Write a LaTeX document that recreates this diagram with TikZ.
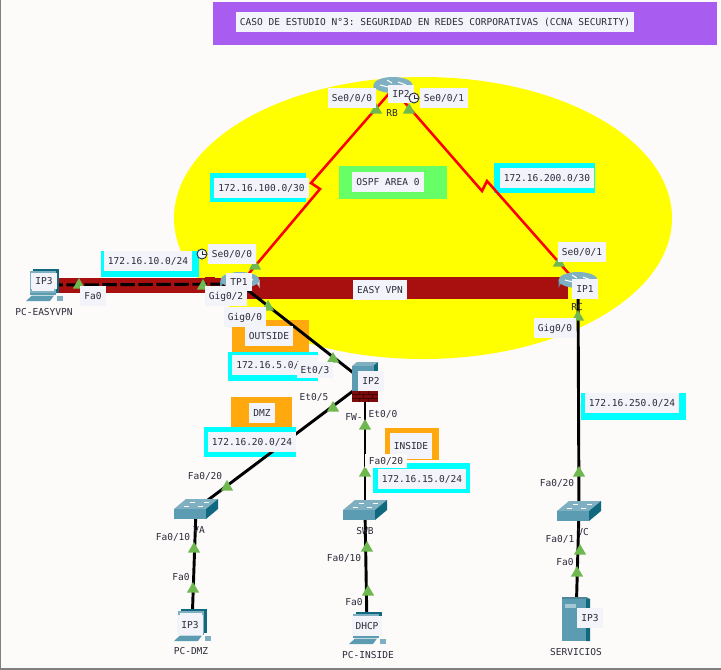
\documentclass[tikz,border=0pt]{standalone}
\usepackage{fontspec}
\setmonofont{DejaVu Sans Mono}
\usetikzlibrary{shapes.geometric}
\definecolor{fondo}{HTML}{FDFBF9}
\definecolor{morado}{HTML}{A95CF0}
\definecolor{amarillo}{HTML}{FFFF00}
\definecolor{verdearea}{HTML}{66FF66}
\definecolor{naranja}{HTML}{FFA90F}
\definecolor{cian}{HTML}{00FFFF}
\definecolor{vino}{HTML}{A80F0F}
\definecolor{etiqueta}{HTML}{F3F3FA}
\definecolor{tinta}{HTML}{2B2B3B}
\definecolor{puertoverde}{HTML}{6FB84F}
\definecolor{tealclaro}{HTML}{7FB0C1}
\definecolor{tealmedio}{HTML}{5C9CB2}
\definecolor{tealoscuro}{HTML}{10697F}
\tikzset{
  lbl/.style={font=\ttfamily\fontsize{7.15}{9}\selectfont, text=tinta, fill=etiqueta, inner xsep=3pt, inner ysep=4.5pt, text height=5.5pt, text depth=0.5pt},
  txt/.style={font=\ttfamily\fontsize{7.15}{9}\selectfont, text=tinta, inner sep=1pt},
  puerto/.style={regular polygon, regular polygon sides=3, fill=puertoverde, minimum size=10.5pt, inner sep=0pt},
  equipo/.style={inner sep=0pt, minimum size=6pt},
  enlace/.style={black, line width=2.2pt},
  serial/.style={red, line width=1.9pt},
  router/.pic={
    \path[left color=tealmedio, right color=tealclaro!40!white] (-19.5,-4) -- (-19.5,4) arc[x radius=19.5, y radius=8, start angle=180, end angle=360] -- (19.5,-4) -- cycle;
    \fill[tealclaro] (0,-4) ellipse[x radius=19.5, y radius=8];
    \draw[white, line width=0.8pt] (-13,-4) -- (-5,-2) (13,-4) -- (5,-7) (-6,-9) -- (-1,-6) (6,0) -- (1,-3);
  },
  switchred/.pic={
    \fill[tealclaro] (-22,0) -- (-10,-10) -- (22,-10) -- (10,0) -- cycle;
    \fill[tealmedio] (-22,0) rectangle (10,10);
    \fill[tealoscuro] (10,0) -- (22,-10) -- (22,0) -- (10,10) -- cycle;
    \draw[white, line width=0.7pt] (-12,-2.5) -- (-7,-2.5) (2,-2.5) -- (7,-2.5) (-6,-7) -- (-1,-7) (8,-7) -- (13,-7);
  },
  compu/.pic={
    \fill[tealoscuro] (-11,-16) -- (15,-16) -- (15,8) -- (-11,8) -- cycle;
    \fill[tealclaro] (-14,-14) rectangle (12,8);
    \fill[etiqueta] (-12,-12) rectangle (10,6);
    \fill[tealmedio] (-14,8) rectangle (12,10);
    \fill[tealmedio] (-12,10.5) -- (10,10.5) -- (6,16) -- (-18,16) -- cycle;
    \fill[tealclaro] (13,11) rectangle (19,16);
  },
  servidor/.pic={
    \fill[tealoscuro] (10,-22) -- (14,-20) -- (14,22) -- (10,22) -- cycle;
    \fill[tealmedio!85!black] (-14,-22) -- (10,-22) -- (14,-20) -- (-14,-20) -- cycle;
    \fill[tealmedio] (-14,-20) rectangle (10,22);
    \fill[tealclaro!70!white] (-11,-15) rectangle (0,-11);
  },
  muro/.pic={
    \fill[tealoscuro] (8,-20) -- (13,-20) -- (13,20) -- (8,20) -- cycle;
    \fill[tealclaro] (-13,-16) -- (-8,-20) -- (13,-20) -- (8,-16) -- cycle;
    \fill[tealmedio] (-13,-16) rectangle (9,10);
    \fill[vino!75!black] (-13,9) rectangle (13,20);
    \draw[black!60!vino, line width=0.5pt] (-13,12.5) -- (13,12.5) (-13,16) -- (13,16)
      (-6,9) -- (-6,12.5) (3,9) -- (3,12.5) (-2,12.5) -- (-2,16) (7,12.5) -- (7,16) (-6,16) -- (-6,20) (3,16) -- (3,20);
  },
  reloj/.pic={
    \draw[tinta, fill=etiqueta, line width=0.7pt] (0,0) circle (5);
    \draw[tinta, line width=0.7pt] (0,-3.5) -- (0,0) -- (3.5,0);
  }
}
\begin{document}
\begin{tikzpicture}[x=0.75pt,y=-0.75pt]
  \useasboundingbox (0,0) rectangle (721,669);
  % Fondo claro con borde gris
  \fill[fondo] (0,0) rectangle (721,669);
  \draw[gray, line width=1pt] (0,0) -- (0,669) -- (721,669);
  % Titulo
  \fill[morado] (213,2) rectangle (717,45);
  \node[lbl, minimum width=299pt] (titulo) at (435,22) {CASO DE ESTUDIO N°3: SEGURIDAD EN REDES CORPORATIVAS (CCNA SECURITY)};
  % Zona OSPF y bloques de color
  \fill[amarillo] (423,218) ellipse[x radius=249, y radius=141];
  \fill[verdearea] (339,166) rectangle (447,199);
  \fill[naranja] (232,320) rectangle (309,353);
  \fill[naranja] (231,397) rectangle (292,430);
  \fill[naranja] (385,428) rectangle (439,460);
  \fill[cian] (210,173) rectangle (306,202);
  \fill[cian] (494,163) rectangle (595,193);
  \fill[cian] (101,251) rectangle (199,277);
  \fill[cian] (228,352) rectangle (318,381);
  \fill[cian] (204,427) rectangle (296,457);
  \fill[cian] (373,463) rectangle (470,493);
  \fill[cian] (581,393) rectangle (686,420);
  % Tunel EASY VPN
  \fill[vino] (58,278) rectangle (245,293);
  \fill[vino] (205,277) rectangle (215,280);
  \fill[vino] (245,277) rectangle (568,299);
  % Equipos
  \node[equipo] (RB) at (393,89) {};
  \node[equipo] (TP1) at (240,284) {};
  \node[equipo] (RC) at (578,284) {};
  \node[equipo] (FW) at (365,382) {};
  \node[equipo] (SWA) at (196,509) {};
  \node[equipo] (SWB) at (365,510) {};
  \node[equipo] (SWC) at (579,511) {};
  \node[equipo] (PCEASY) at (44,285) {};
  \node[equipo] (PCDMZ) at (192,625) {};
  \node[equipo] (PCINSIDE) at (367,628) {};
  \node[equipo] (SRV) at (576,619) {};
  % Enlaces seriales con su quiebre
  \coordinate (qa) at (311,183);
  \coordinate (qb) at (320,189);
  \coordinate (qc) at (482,191);
  \coordinate (qd) at (487,181);
  \draw[serial] (RB) -- (qa) -- (qb) -- (TP1);
  \draw[serial] (RB) -- (qc) -- (qd) -- (RC);
  % Enlaces de cobre
  \draw[black, line width=2.2pt, dash pattern=on 11pt off 2.5pt] (PCEASY) -- (TP1);
  \draw[enlace] (TP1) -- (FW);
  \draw[enlace] (FW) -- (SWA);
  \draw[enlace] (FW) -- (SWB);
  \draw[enlace] (SWA) -- (PCDMZ);
  \draw[enlace] (SWB) -- (PCINSIDE);
  \draw[enlace] (RC) -- (SWC);
  \draw[enlace] (SWC) -- (SRV);
  % Marcas verdes de puerto
  \foreach \i/\x/\y in {a/376/110,b/409/110,c/255/266,d/559/263,e/79/285,f/203/286,g/268/307,h/578/317,i/333/359,j/333/408,k/365/426,l/365/473,m/227/487,n/194/549,o/193/589,p/367/548,q/368/592,r/579/473,s/580/551,t/577/573}
    \node[puerto] (port\i) at (\x,\y) {};
  % Iconos
  \pic at (RB) {router};
  \pic at (TP1) {router};
  \pic at (RC) {router};
  \pic at (FW) {muro};
  \pic at (SWA) {switchred};
  \pic at (SWB) {switchred};
  \pic at (SWC) {switchred};
  \pic at (PCEASY) {compu};
  \pic at (PCDMZ) {compu};
  \pic at (PCINSIDE) {compu};
  \pic at (SRV) {servidor};
  % Redes
  \node[lbl] (redA) at (261.5,188) {172.16.100.0/30};
  \node[lbl] (redB) at (547,178) {172.16.200.0/30};
  \node[lbl] (redC) at (148,261) {172.16.10.0/24};
  \node[lbl, anchor=west, text width=58pt, align=left] (redD) at (232,365) {172.16.5.0/};
  \node[lbl] (redE) at (252,442) {172.16.20.0/24};
  \node[lbl] (redF) at (422,479) {172.16.15.0/24};
  \node[lbl] (redG) at (632,403) {172.16.250.0/24};
  % Zonas
  \node[lbl] (ospf) at (388,182) {OSPF AREA 0};
  \node[lbl] (vpn) at (380,290) {EASY VPN};
  \node[lbl] (outside) at (269,336) {OUTSIDE};
  \node[lbl] (dmz) at (262,413) {DMZ};
  \node[lbl, inner ysep=7pt] (inside) at (411,446) {INSIDE};
  % Puertos
  \node[lbl] (seA) at (352,98) {Se0/0/0};
  \node[lbl] (seB) at (444,98) {Se0/0/1};
  \node[lbl] (seC) at (232,254) {Se0/0/0};
  \node[lbl] (seD) at (582,252) {Se0/0/1};
  \node[lbl] (faA) at (93,296) {Fa0};
  \node[lbl] (giA) at (226,296) {Gig0/2};
  \node[lbl] (giB) at (245,317) {Gig0/0};
  \node[lbl] (giC) at (555,328) {Gig0/0};
  \node[lbl, inner ysep=3pt] (etA) at (315,370) {Et0/3};
  \node[txt] (etB) at (314,397) {Et0/5};
  \node[txt] (etC) at (383,414) {Et0/0};
  \node[lbl, fill=fondo, inner ysep=2.5pt] (faB) at (386,461) {Fa0/20};
  \node[txt] (faC) at (205,476) {Fa0/20};
  \node[txt] (faD) at (173,537) {Fa0/10};
  \node[txt] (faE) at (181,577) {Fa0};
  \node[txt] (faF) at (344,558) {Fa0/10};
  \node[txt] (faG) at (354,602) {Fa0};
  \node[txt] (faH) at (557,483) {Fa0/20};
  \node[txt] (faI) at (560,539) {Fa0/1};
  \node[txt] (faJ) at (565,562) {Fa0};
  % Direcciones y nombres
  \node[lbl, inner ysep=3.5pt] (ipA) at (401,94) {IP2};
  \node[lbl, inner ysep=3.5pt] (ipB) at (239,282) {TP1};
  \node[lbl] (ipC) at (585,289) {IP1};
  \node[lbl] (ipD) at (371,381) {IP2};
  \node[lbl, inner ysep=3pt] (ipE) at (44,281) {IP3};
  \node[lbl] (ipF) at (190,625) {IP3};
  \node[lbl] (ipG) at (367,626) {DHCP};
  \node[lbl] (ipH) at (590,618) {IP3};
  \node[txt] (nomA) at (392,113) {RB};
  \node[txt] (nomB) at (577,307) {RC};
  \node[txt] (nomC) at (354,417) {FW-};
  \node[txt] (nomD) at (199,530) {VA};
  \node[txt] (nomE) at (365,531) {SWB};
  \node[txt] (nomF) at (583,532) {VC};
  \node[txt] (nomG) at (44,312) {PC-EASYVPN};
  \node[txt] (nomH) at (191,651) {PC-DMZ};
  \node[txt] (nomI) at (368,655) {PC-INSIDE};
  \node[txt] (nomJ) at (576,652) {SERVICIOS};
  % Relojes de los seriales
  \pic at (414,98) {reloj};
  \pic at (202,254) {reloj};
\end{tikzpicture}
\end{document}
